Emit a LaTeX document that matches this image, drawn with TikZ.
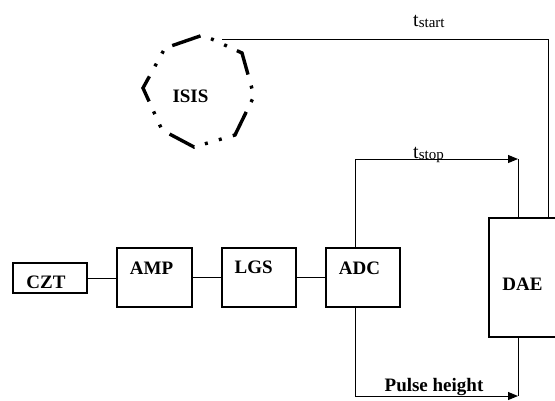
\documentclass[tikz,border=0pt]{standalone}
\usepackage{fontspec}
\setmainfont{Liberation Serif}
\usetikzlibrary{arrows.meta,calc}
\begin{document}
\begin{tikzpicture}[x=1pt,y=-1pt,
  box/.style={draw, line width=1.2pt, inner sep=0pt},
  lbl/.style={font=\fontsize{19}{19}\selectfont\bfseries, inner sep=0pt, anchor=base},
  tlbl/.style={font=\fontsize{20}{20}\selectfont, inner sep=0pt, anchor=base west},
  conn/.style={line width=1pt},
  arr/.style={conn, -{Triangle[length=10pt,width=8pt]}},
  ring/.style={line width=3.4pt, dash pattern=on 28pt off 11.5pt on 3pt off 11.5pt on 3pt off 11pt}]
\clip (0,0) rectangle (555,400);
% boxes
\node[box, minimum width=74pt, minimum height=30pt] (czt) at (50,278) {};
\node[box, minimum width=75pt, minimum height=59pt] (amp) at (154.5,277.5) {};
\node[box, minimum width=74pt, minimum height=59pt] (lgs) at (259,277.5) {};
\node[box, minimum width=74pt, minimum height=59pt] (adc) at (363,277.5) {};
\node[box, minimum width=76pt, minimum height=119pt] (dae) at (527,277.5) {};
% box labels
\node[lbl] (czttext) at (46,288.5) {CZT};
\node[lbl] (amptext) at (151.5,274) {AMP};
\node[lbl] (lgstext) at (253.7,273.5) {LGS};
\node[lbl] (adctext) at (359.5,274) {ADC};
\node[lbl] (daetext) at (522.5,290) {DAE};
% ISIS ring
\draw[ring] (174,45) -- (203,35) -- (242,53) -- (254,96) -- (235,135) -- (194,147) -- (162,130) -- (143,88) -- (165,48) -- cycle;
\node[lbl] (isis) at (190.5,102.5) {ISIS};
% chain connectors
\draw[conn] (czt.east) -- (czt.east -| amp.west);
\draw[conn] (amp.east) -- (lgs.west);
\draw[conn] (lgs.east) -- (adc.west);
% t_stop
\coordinate (adctop) at ($(adc.north west)!0.4!(adc.north east)$);
\coordinate (adcbot) at ($(adc.south west)!0.4!(adc.south east)$);
\coordinate (stopend) at (518,159);
\draw[arr] (adctop) |- (stopend);
\draw[conn] (stopend) -- (stopend |- dae.north);
\node[tlbl] (tstop) at (413,158.3) {t{\fontsize{15}{15}\selectfont\raisebox{-1.5pt}{stop}}};
% pulse height
\coordinate (phend) at (518,396);
\draw[arr] (adcbot) |- (phend);
\draw[conn] (phend) -- (phend |- dae.south);
\node[lbl] (pulse) at (434,391.5) {Pulse height};
% t_start
\coordinate (isisright) at (222,39);
\coordinate (startcorner) at (548,39);
\draw[conn] (isisright) -- (startcorner) -- (startcorner |- dae.north);
\node[tlbl] (tstart) at (413,26.3) {t{\fontsize{15}{15}\selectfont\raisebox{-1pt}{start}}};
\end{tikzpicture}
\end{document}
